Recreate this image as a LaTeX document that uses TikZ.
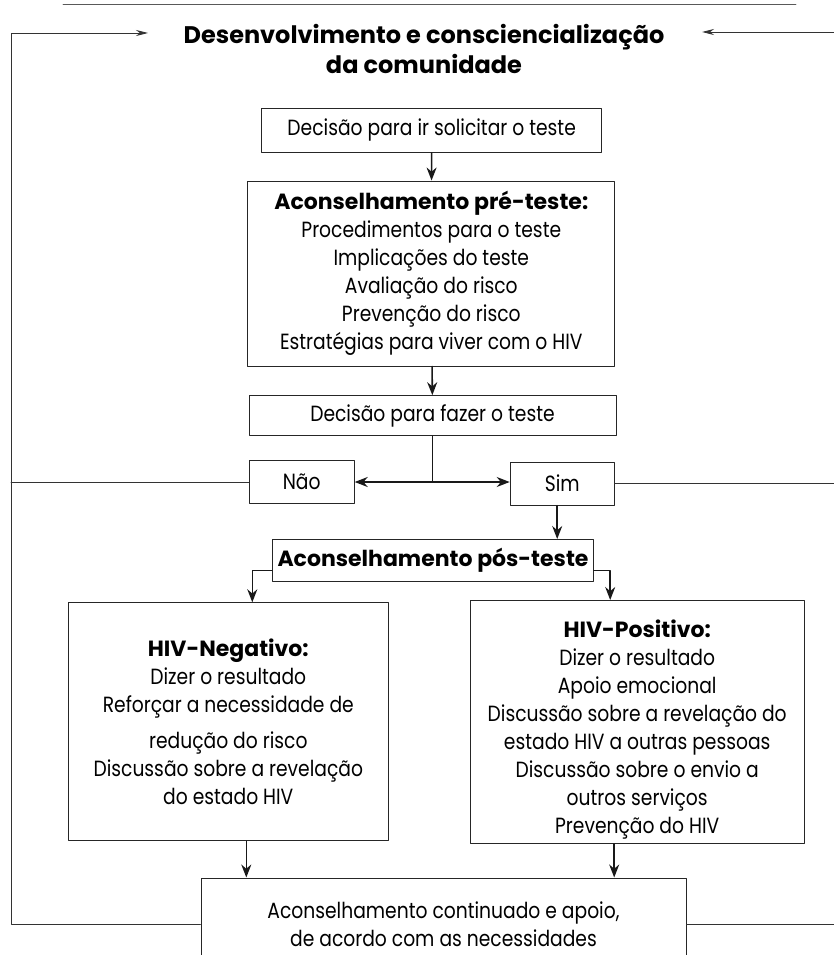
\documentclass[tikz,border=0pt]{standalone}
\usepackage{fontspec}
\setmainfont{Poppins}[FakeStretch=0.85,BoldFeatures={FakeStretch=1.0}]
\usetikzlibrary{arrows.meta}

\begin{document}
\begin{tikzpicture}[line cap=round,line join=round,>={Stealth[length=13pt,width=10pt]},x=1pt,y=-1pt,
	box/.style={draw=black!85,line width=1pt,inner sep=0pt,align=center,font=\fontsize{22}{28}\selectfont},
	link/.style={->,line width=1.6pt,black!90},
	loop/.style={line width=0.9pt,black!80},
	loopseta/.style={loop,-{Stealth[length=12pt,width=6pt]}}]
	\useasboundingbox (0,0) rectangle (834,955);
	\clip (0,0) rectangle (834,955);
	\draw[loop,black!65] (63,4)-- (796,4);
	\node[font=\fontsize{24}{30}\selectfont\bfseries,align=center] (titulo) at (424,49) {Desenvolvimento e consciencialização\\da comunidade};
	\node[box,minimum width=340pt,minimum height=44pt] (pedir) at (431.7,130.3) {Decisão para ir solicitar o teste};
	\node[box,minimum width=367pt,minimum height=185pt] (pre) at (431.3,273.5) {\textbf{Aconselhamento pré-teste:}\\Procedimentos para o teste\\Implicações do teste\\Avaliação do risco\\Prevenção do risco\\Estratégias para viver com o HIV};
	\node[box,minimum width=367pt,minimum height=40pt] (fazer) at (432.5,415.7) {Decisão para fazer o teste};
	\node[box,minimum width=105pt,minimum height=43pt] (nao) at (301.7,482) {Não};
	\node[box,minimum width=104pt,minimum height=43pt] (sim) at (562.2,483.7) {Sim};
	\node[box,minimum width=321pt,minimum height=42pt] (pos) at (433,560.5) {\textbf{Aconselhamento pós-teste}};
	\node[box,minimum width=320pt,minimum height=238pt] (neg) at (228.3,721.8) {\textbf{HIV-Negativo:}\\Dizer o resultado\\Reforçar a necessidade de\\[8pt]redução do risco\\Discussão sobre a revelação\\do estado HIV};
	\node[box,minimum width=334pt,minimum height=243pt] (posi) at (637.2,722) {{}\\[4pt]\textbf{HIV-Positivo:}\\Dizer o resultado\\Apoio emocional\\Discussão sobre a revelação do\\estado HIV a outras pessoas\\Discussão sobre o envio a\\outros serviços\\Prevenção do HIV};
	\node[box,minimum width=485pt,minimum height=92pt] (cont) at (443.5,924) {Aconselhamento continuado e apoio,\\de acordo com as necessidades};
	\coordinate (cantoE) at (11,33);
	\coordinate (setaE) at (148,33);
	\coordinate (setaD) at (702,32);
	\coordinate (bordaD) at (840,32);
	\coordinate (ramo) at (fazer.south |- nao.east);
	\draw[link] (pedir) -- (pre);
	\draw[link] (pre) -- (fazer);
	\draw[line width=1.6pt,black!90] (fazer.south) -- (ramo);
	\draw[link] (ramo) -- (nao.east);
	\draw[link] (ramo) -- (ramo -| sim.west);
	\draw[link] ([xshift=-5pt]sim.south) -- ([xshift=-5pt]sim.south |- pos.north);
	\draw[link] ([yshift=-10pt]pos.west) -| ([xshift=24pt]neg.north);
	\draw[link] ([yshift=-10pt]pos.east) -| ([xshift=-27pt]posi.north);
	\draw[link] ([xshift=18pt]neg.south) -- ([xshift=18pt]neg.south |- cont.north);
	\draw[link] ([xshift=-23pt]posi.south) -- ([xshift=-23pt]posi.south |- cont.north);
	% retorno a comunidade
	\draw[loopseta] (cont.west) -| (cantoE) -- (setaE);
	\draw[loop] (nao.west) -- (nao.west -| cantoE);
	\draw[loopseta] (bordaD) -- (setaD);
	\draw[loop] (sim.east) -- (sim.east -| bordaD);
	\draw[loop] (cont.east) -- (cont.east -| bordaD);
\end{tikzpicture}
\end{document}
